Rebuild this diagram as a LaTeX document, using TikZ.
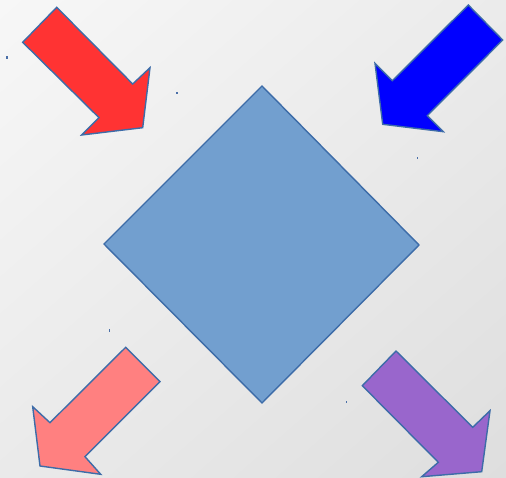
\documentclass[tikz,border=0pt]{standalone}
\usetikzlibrary{shapes.geometric,shadings}
\definecolor{bgTL}{HTML}{F7F7F7}
\definecolor{bgTR}{HTML}{EBEBEB}
\definecolor{bgBL}{HTML}{EAEAEA}
\definecolor{bgBR}{HTML}{DEDEDE}
\definecolor{edge}{HTML}{3D6CA8}
\definecolor{diamondfill}{HTML}{729FCF}
\definecolor{redfill}{HTML}{FF3333}
\definecolor{bluefill}{HTML}{0000FF}
\definecolor{pinkfill}{HTML}{FF8080}
\definecolor{purplefill}{HTML}{9966CC}
\definecolor{speck}{HTML}{4A6FA8}
\begin{document}
\begin{tikzpicture}[x=1pt,y=-1pt,
  shapeedge/.style={draw=edge,line width=1.4pt,line join=miter},
  speckdot/.style={fill=speck}]
\useasboundingbox (0,0) rectangle (506,478);
\shade[upper left=bgTL,upper right=bgTR,lower left=bgBL,lower right=bgBR] (0,0) rectangle (506,478);
% diamond
\coordinate (dT) at (262,86);
\coordinate (dR) at (419,245);
\coordinate (dB) at (262,403);
\coordinate (dL) at (104,244);
\draw[shapeedge,fill=diamondfill] (dT) -- (dR) -- (dB) -- (dL) -- cycle;
% red arrow (to lower right)
\draw[shapeedge,fill=redfill] (56.7,7.3) -- (132.7,84) -- (150,67.7) -- (142.7,127.7) -- (81.7,135) -- (99,117.7) -- (22.7,42.3) -- cycle;
% blue arrow (to lower left)
\draw[shapeedge,fill=bluefill] (468.3,5) -- (502.7,40) -- (427.3,115.7) -- (443.3,131.7) -- (382.7,124.3) -- (375,63.3) -- (392.3,80.7) -- cycle;
% pink arrow (to lower left)
\draw[shapeedge,fill=pinkfill] (125.7,347.3) -- (160,381.7) -- (85,456.7) -- (100.7,474.3) -- (40,466) -- (32.7,406.7) -- (50,422.7) -- cycle;
% purple arrow (to lower right)
\draw[shapeedge,fill=purplefill] (396,351) -- (472.7,427.3) -- (490,410.7) -- (481.7,471.7) -- (421.7,476.7) -- (438.3,462.3) -- (362.3,385.7) -- cycle;
% small specks
\fill[speckdot] (6.3,56.5) rectangle (7.5,59);
\fill[speckdot] (176,92) rectangle (177.5,94);
\fill[speckdot] (416.8,157.5) rectangle (418,159.5);
\fill[speckdot] (108.5,329.5) rectangle (109.7,331.8);
\fill[speckdot] (345.5,401) rectangle (346.7,403);
\end{tikzpicture}
\end{document}
